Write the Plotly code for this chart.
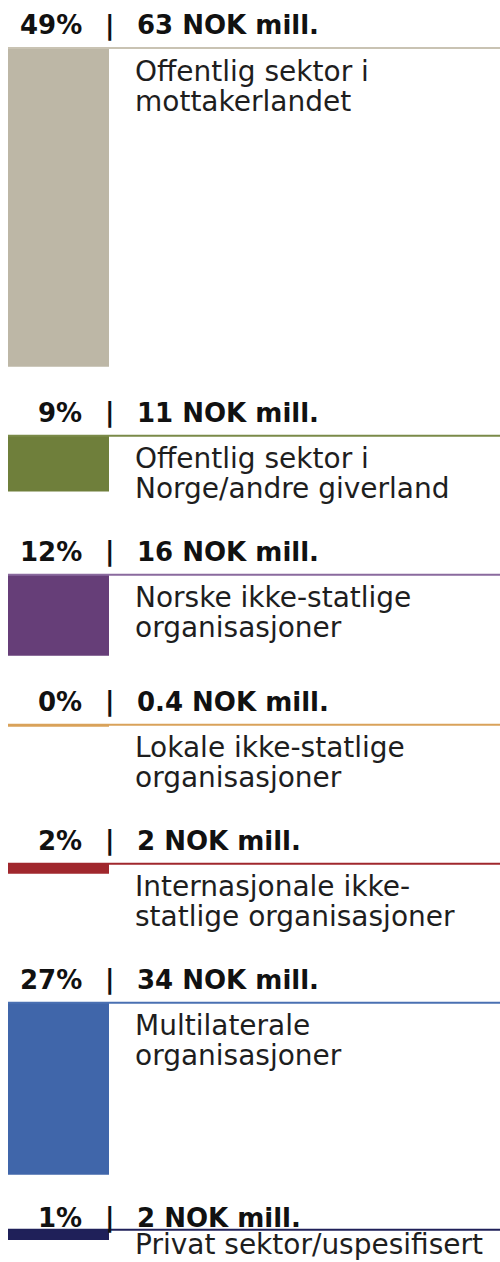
import plotly.graph_objects as go

# ---- data ----
categories = [
    "Offentlig sektor i\nmottakerlandet",
    "Offentlig sektor i\nNorge/andre giverland",
    "Norske ikke-statlige\norganisasjoner",
    "Lokale ikke-statlige\norganisasjoner",
    "Internasjonale ikke-\nstatlige organisasjoner",
    "Multilaterale\norganisasjoner",
    "Privat sektor/uspesifisert",
]
values = [63, 11, 16, 0.4, 2, 34, 2]            # NOK mill.
pct_labels = ["49%", "9%", "12%", "0%", "2%", "27%", "1%"]
value_labels = ["63", "11", "16", "0.4", "2", "34", "2"]
bar_colors = ["#BDB7A6", "#6F7F3B", "#663E78", "#D9A25A", "#A0272D", "#4066AA", "#1F2059"]
line_colors = ["#C9C3B3", "#7A8A48", "#8A6A9E", "#D9A25A", "#A0272D", "#4A70B2", "#1F2059"]

# ---- layout constants (pixels) ----
W, H = 500, 1262
PX_PER_UNIT = 5.06
FIRST_LINE = 48
BAR_GAP = 69
MIN_BLOCK = 139
BAR_X0, BAR_X1 = 8, 109
TEXT_X = 133
LINE_SPACING = 30


def u(px):
    return px / PX_PER_UNIT


# compute block top lines from data
lines_px = []
cur = FIRST_LINE
for i, v in enumerate(values):
    lines_px.append(cur)
    cur = cur + max(v * PX_PER_UNIT + BAR_GAP, MIN_BLOCK)
header_off = [23] * len(values)
label_off = [23] * len(values)
# last block is compact in the reference
lines_px[-1] -= 14
header_off[-1] = 12
label_off[-1] = 15

bases = [u(p) for p in lines_px]

fig = go.Figure()
fig.add_trace(go.Bar(
    x=[(BAR_X0 + BAR_X1) / 2] * len(values),
    y=values,
    base=bases,
    width=BAR_X1 - BAR_X0,
    marker=dict(color=bar_colors, line=dict(width=0)),
    hoverinfo="skip",
    showlegend=False,
))

shapes = []
annotations = []
hfont = dict(family="DejaVu Sans", size=26, color="#111111")
lfont = dict(family="DejaVu Sans", size=28, color="#1e1e1e")
for i in range(len(values)):
    b = bases[i]
    shapes.append(dict(type="line", xref="x", yref="y", x0=BAR_X0, x1=W,
                       y0=b, y1=b, line=dict(color=line_colors[i], width=2)))
    annotations.append(dict(x=84, y=b, xref="x", yref="y", text="<b>%s</b>" % pct_labels[i],
                            xanchor="right", yanchor="middle", yshift=header_off[i],
                            showarrow=False, font=hfont))
    annotations.append(dict(x=110, y=b, xref="x", yref="y", text="<b>|</b>",
                            xanchor="center", yanchor="middle", yshift=header_off[i],
                            showarrow=False, font=hfont))
    annotations.append(dict(x=135, y=b, xref="x", yref="y",
                            text="<b>%s NOK mill.</b>" % value_labels[i],
                            xanchor="left", yanchor="middle", yshift=header_off[i],
                            showarrow=False, font=hfont))
    for j, line in enumerate(categories[i].split("\n")):
        annotations.append(dict(x=TEXT_X, y=b, xref="x", yref="y", text=line,
                                xanchor="left", yanchor="middle",
                                yshift=-(label_off[i] + j * LINE_SPACING),
                                showarrow=False, font=lfont))

fig.update_layout(
    width=W, height=H,
    margin=dict(l=0, r=0, t=0, b=0),
    paper_bgcolor="white", plot_bgcolor="white",
    barmode="overlay",
    xaxis=dict(range=[0, W], visible=False, fixedrange=True),
    yaxis=dict(range=[u(H), 0], visible=False, fixedrange=True),
    shapes=shapes,
    annotations=annotations,
    showlegend=False,
)

fig.write_html(
    "out.html",
    config={"displayModeBar": False},
    post_script="document.body.style.margin='0';document.body.style.overflow='hidden';",
)
